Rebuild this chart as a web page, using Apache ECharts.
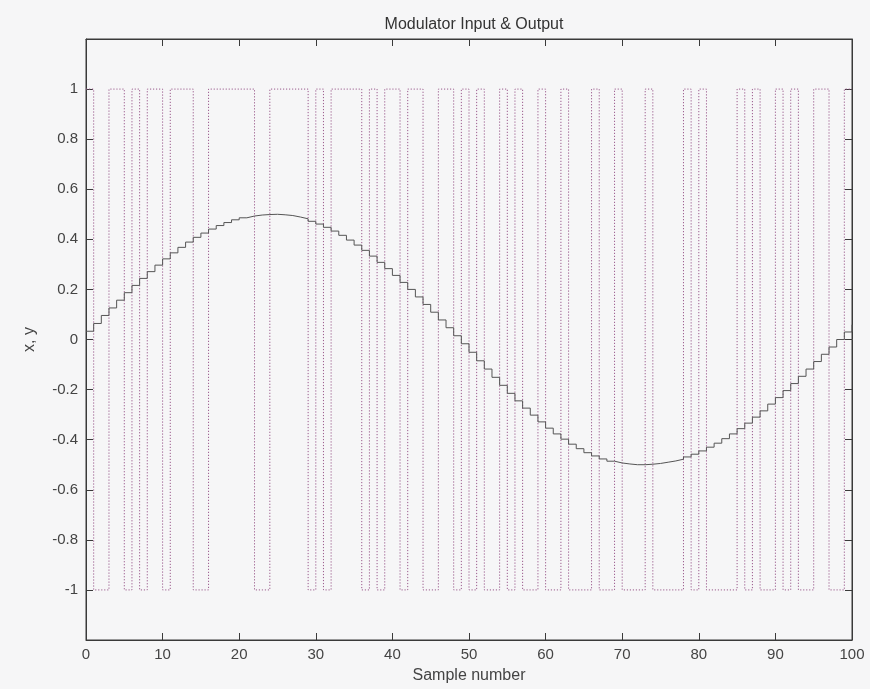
<!DOCTYPE html>
<html><head><meta charset="utf-8">
<script src="https://cdn.jsdelivr.net/npm/echarts@6/dist/echarts.min.js"></script>
<style>html,body{margin:0;padding:0;background:#f6f6f7}#c{width:870px;height:689px}</style>
</head><body><div id="c"></div>
<script>
// Modulator input x[n] (stepped sine)
const inputX = [0.033,0.064,0.096,0.126,0.157,0.187,0.216,0.244,0.271,0.297,
0.322,0.346,0.368,0.389,0.408,0.425,0.441,0.455,0.467,0.478,
0.486,0.493,0.497,0.499,0.500,0.498,0.495,0.489,0.482,0.472,
0.461,0.448,0.433,0.416,0.397,0.377,0.356,0.333,0.308,0.283,
0.256,0.228,0.200,0.170,0.140,0.109,0.078,0.047,0.015,-0.017,
-0.051,-0.085,-0.118,-0.151,-0.183,-0.215,-0.245,-0.274,-0.302,-0.329,
-0.354,-0.377,-0.398,-0.418,-0.436,-0.452,-0.465,-0.477,-0.486,-0.493,
-0.497,-0.500,-0.500,-0.498,-0.495,-0.490,-0.485,-0.478,-0.469,-0.458,
-0.445,-0.430,-0.414,-0.396,-0.377,-0.356,-0.334,-0.310,-0.285,-0.258,
-0.232,-0.204,-0.176,-0.147,-0.118,-0.088,-0.059,-0.030,0.000,0.030,0.059];
// Modulator output y[n] (+1 / -1)
const outputY = [1,-1,-1,1,1,-1,1,-1,1,1,
-1,1,1,1,-1,-1,1,1,1,1,
1,1,-1,-1,1,1,1,1,1,-1,
1,-1,1,1,1,1,-1,1,-1,1,
1,-1,1,1,-1,-1,1,1,-1,1,
-1,1,-1,-1,1,-1,1,-1,-1,1,
-1,-1,1,-1,-1,-1,1,-1,-1,1,
-1,-1,-1,1,-1,-1,-1,-1,1,-1,
1,-1,-1,-1,-1,1,-1,1,-1,-1,
1,-1,1,-1,-1,1,1,-1,-1,1,1];
const xTicks = [0,10,20,30,40,50,60,70,80,90,100];
const yTicks = [-1,-0.8,-0.6,-0.4,-0.2,0,0.2,0.4,0.6,0.8,1];

const inData = inputX.map((v,i)=>[i,v]);
const outData = outputY.map((v,i)=>[i,v]);

const axisCol = '#3a3a3a';
const fam = 'Liberation Sans, Arial, sans-serif';
const tickLabel = {color:'#444', fontSize:15, fontFamily:fam};
const nameStyle = {color:'#444', fontSize:16, fontFamily:fam};
const chart = echarts.init(document.getElementById('c'), null, {renderer:'canvas'});
const baseX = {type:'value', min:0, max:100, interval:10,
  axisLine:{show:true, onZero:false, lineStyle:{color:axisCol}},
  splitLine:{show:false}};
const baseY = {type:'value', min:-1.2, max:1.2,
  axisLine:{show:true, onZero:false, lineStyle:{color:axisCol}},
  splitLine:{show:false}};
chart.setOption({
  backgroundColor:'#f6f6f7',
  animation:false,
  title:{text:'Modulator Input & Output', left:469, top:12, textAlign:'center',
    textStyle:{color:'#333', fontSize:16, fontWeight:'normal', fontFamily:fam}},
  grid:{left:86, right:18, top:39, bottom:48, show:true, borderColor:axisCol, borderWidth:1, backgroundColor:'transparent'},
  xAxis:[
    Object.assign({}, baseX, {position:'bottom',
      name:'Sample number', nameLocation:'middle', nameGap:28, nameTextStyle:nameStyle,
      axisTick:{show:true, inside:true, length:7, lineStyle:{color:axisCol}, customValues:xTicks},
      axisLabel:Object.assign({margin:7, customValues:xTicks}, tickLabel)}),
    Object.assign({}, baseX, {position:'top',
      axisTick:{show:true, inside:true, length:7, lineStyle:{color:axisCol}, customValues:xTicks},
      axisLabel:{show:false}})
  ],
  yAxis:[
    Object.assign({}, baseY, {position:'left',
      name:'x, y', nameLocation:'middle', nameGap:48, nameRotate:90, nameTextStyle:nameStyle,
      axisTick:{show:true, inside:true, length:7, lineStyle:{color:axisCol}, customValues:yTicks},
      axisLabel:Object.assign({margin:8, customValues:yTicks}, tickLabel)}),
    Object.assign({}, baseY, {position:'right',
      axisTick:{show:true, inside:true, length:7, lineStyle:{color:axisCol}, customValues:yTicks},
      axisLabel:{show:false}})
  ],
  series:[
    {name:'output', type:'line', step:'end', data:outData, symbol:'none',
     xAxisIndex:0, yAxisIndex:0,
     lineStyle:{color:'#9a5a8c', width:1, type:[1.2,1.8]}},
    {name:'input', type:'line', step:'end', data:inData, symbol:'none',
     xAxisIndex:0, yAxisIndex:0,
     lineStyle:{color:'#555', width:1}}
  ]
});
</script></body></html>
